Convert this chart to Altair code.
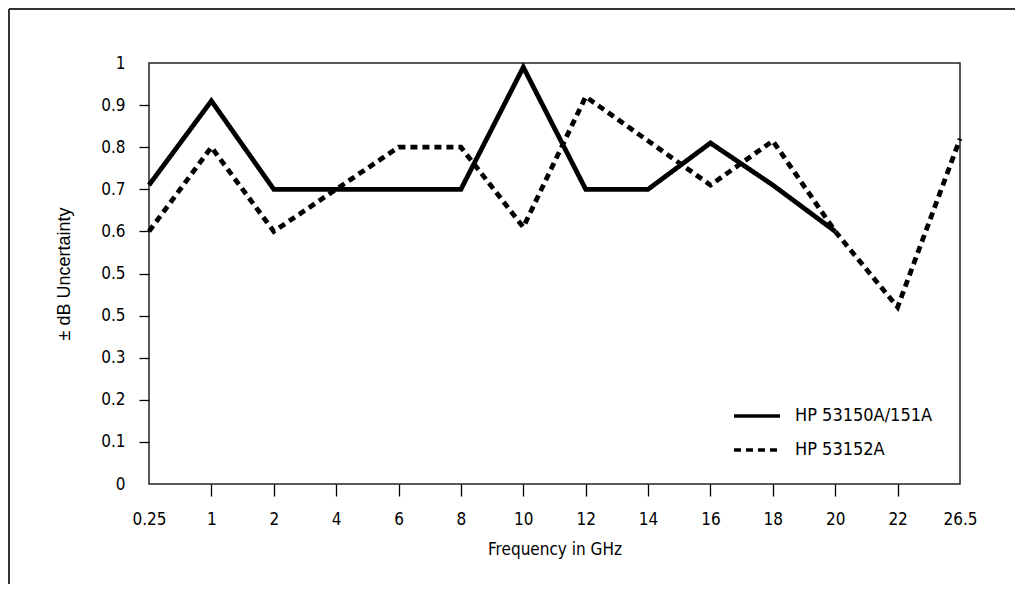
import altair as alt
import pandas as pd

freq = ["0.25", "1", "2", "4", "6", "8", "10", "12", "14", "16", "18", "20", "22", "26.5"]
hp53150 = [0.71, 0.91, 0.70, 0.70, 0.70, 0.70, 0.99, 0.70, 0.70, 0.81, 0.71, 0.60, None, None]
hp53152 = [0.60, 0.80, 0.60, 0.70, 0.80, 0.80, 0.61, 0.92, 0.815, 0.71, 0.815, 0.60, 0.42, 0.82]
series = ["HP 53150A/151A", "HP 53152A"]
y_ticks = [0, 0.1, 0.2, 0.3, 0.4, 0.5, 0.6, 0.7, 0.8, 0.9, 1.0]

rows = []
for i, f in enumerate(freq):
    rows.append({"freq": f, "value": hp53150[i], "series": series[0]})
    rows.append({"freq": f, "value": hp53152[i], "series": series[1]})
df = pd.DataFrame(rows)

COND = "DejaVu Sans Condensed, Liberation Sans Narrow, Arial Narrow, sans-serif"
W, H = 811, 421

lines = alt.Chart(df).mark_line(strokeWidth=4.8, strokeCap="butt", strokeJoin="miter", color="black").encode(
    x=alt.X("freq:N", sort=freq, scale=alt.Scale(type="point", padding=0),
            axis=alt.Axis(title="Frequency in GHz", labelAngle=0, domain=False, grid=False,
                          tickSize=12, tickWidth=1.3, tickColor={"condition": {"test": "datum.value == '0.25' || datum.value == '26.5'", "value": "transparent"}, "value": "black"},
                          labelPadding=15, labelFont=COND, labelFontSize=17, labelColor="black",
                          titleFont=COND, titleFontSize=17, titleFontWeight="normal", titleColor="black",
                          titleY=57)),
    y=alt.Y("value:Q", scale=alt.Scale(domain=[0, 1], nice=False),
            axis=alt.Axis(title="± dB Uncertainty", values=y_ticks, domain=False, grid=False,
                          tickSize=10, tickWidth=1.3,
                          tickColor={"condition": {"test": "datum.value == 0 || datum.value == 1", "value": "transparent"}, "value": "black"},
                          labelExpr="abs(datum.value - 0.4) < 1e-6 ? '0.5' : format(datum.value, '~g')",
                          labelPadding=14, labelFont=COND, labelFontSize=17, labelColor="black",
                          titleFont="Liberation Sans, Arial, sans-serif", titleFontSize=18, titleFontWeight="normal",
                          titleColor="black", titleX=-76, titleY=H / 2)),
    strokeDash=alt.StrokeDash("series:N", sort=series,
                              scale=alt.Scale(domain=series, range=[[1, 0], [7, 5]]),
                              legend=alt.Legend(title=None, orient="none", legendX=583, legendY=328,
                                                symbolType="stroke", symbolSize=2116, symbolStrokeWidth=3.5,
                                                symbolStrokeColor="black", labelFont=COND, labelFontSize=18,
                                                labelColor="black", labelOffset=13, rowPadding=-9,
                                                symbolDash=[8, 8])),
    detail="series:N",
)

frame_df = pd.DataFrame({"k": [0]})
frame_left = alt.Chart(frame_df).mark_rule(color="#333", strokeWidth=2).encode(
    x=alt.value(-140), y=alt.value(-54), y2=alt.value(H + 110))
frame_top = alt.Chart(frame_df).mark_rule(color="#333", strokeWidth=2).encode(
    x=alt.value(-140), x2=alt.value(W + 60), y=alt.value(-54))

chart = alt.layer(frame_left, frame_top, lines).properties(
    width=W, height=H,
    autosize=alt.AutoSizeParams(type="none"),
    padding={"left": 141, "top": 55, "right": 55, "bottom": 100},
    background="white",
).configure_view(stroke="#222", strokeWidth=1.5)

chart.save("out.html", embed_options={"renderer": "svg", "actions": False})
